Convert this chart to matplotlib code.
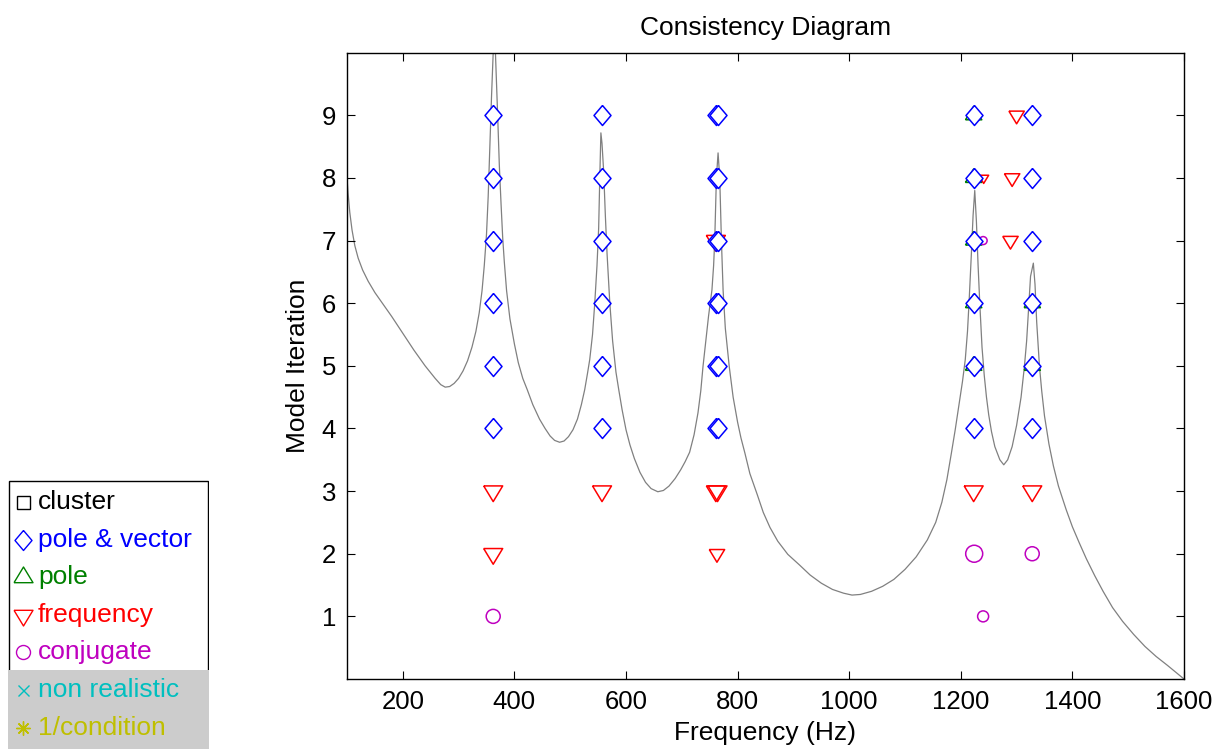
"""Consistency diagram: stabilised poles per model iteration over the FRF."""

import matplotlib

matplotlib.use("Agg")
import matplotlib.pyplot as plt
from matplotlib.patches import Rectangle

plt.rcParams["font.family"] = ["Liberation Sans", "DejaVu Sans"]

# FRF magnitude, already rescaled onto the iteration axis
FRF_FREQ = [
    100, 102, 105, 109, 114, 120, 128, 138, 150, 165, 180, 200, 220, 240, 258,
    268, 276, 284, 292, 300, 308, 316, 324, 331, 337, 342, 346, 350, 353, 356,
    359, 362, 364, 366, 368, 370, 373, 376, 379, 382, 386, 392, 400, 407, 415,
    423, 433, 445, 455, 464, 472, 481, 489, 497, 505, 513, 520, 526, 531, 535,
    540, 544, 548, 551, 553, 555, 557, 560, 563, 566, 571, 576, 582, 587, 593,
    600, 607, 615, 625, 635, 645, 657, 667, 677, 688, 698, 706, 714, 722, 729,
    734, 738, 743, 748, 754, 757, 759, 762, 765, 768, 771, 774, 778, 785, 792,
    800, 806, 813, 822, 835, 846, 858, 872, 890, 911, 930, 950, 970, 990, 1005,
    1020, 1040, 1060, 1080, 1100, 1120, 1140, 1155, 1166, 1175, 1183, 1190,
    1197, 1203, 1208, 1212, 1215, 1219, 1222, 1225, 1228, 1231, 1234, 1238,
    1242, 1246, 1250, 1255, 1261, 1270, 1277, 1284, 1292, 1300, 1308, 1314,
    1318, 1321, 1325, 1330, 1333, 1336, 1341, 1345, 1350, 1358, 1366, 1375,
    1389, 1400, 1412, 1425, 1440, 1455, 1472, 1490, 1510, 1530, 1550, 1570,
    1585, 1600,
]
FRF_LEVEL = [
    8.00, 7.75, 7.45, 7.17, 6.92, 6.72, 6.53, 6.35, 6.17, 5.98, 5.79, 5.52, 5.25, 5.00, 4.80,
    4.70, 4.66, 4.67, 4.72, 4.80, 4.92, 5.08, 5.30, 5.55, 5.85, 6.20, 6.60, 7.10, 7.70, 8.50,
    9.30, 10.00, 10.40, 10.00, 9.50, 9.00, 8.20, 7.60, 7.05, 6.65, 6.20, 5.75, 5.35, 5.05, 4.80,
    4.62, 4.38, 4.15, 4.00, 3.88, 3.81, 3.78, 3.80, 3.87, 3.98, 4.15, 4.38, 4.62, 4.88, 5.10,
    5.50, 6.00, 6.60, 7.20, 8.00, 8.72, 8.55, 8.10, 7.40, 6.80, 6.00, 5.40, 4.90, 4.62, 4.30,
    3.98, 3.74, 3.52, 3.30, 3.14, 3.04, 2.99, 3.01, 3.08, 3.20, 3.34, 3.47, 3.62, 3.90, 4.25,
    4.60, 4.99, 5.40, 5.80, 6.21, 6.60, 7.00, 8.00, 8.40, 8.00, 7.00, 6.21, 5.60, 4.99, 4.50,
    4.10, 3.85, 3.61, 3.28, 2.95, 2.66, 2.42, 2.20, 1.99, 1.82, 1.66, 1.53, 1.43, 1.37, 1.34,
    1.35, 1.40, 1.48, 1.59, 1.75, 1.95, 2.22, 2.50, 2.82, 3.18, 3.60, 3.98,
    4.40, 4.75, 5.10, 5.55, 6.05, 6.80, 7.40, 7.80, 7.30, 6.60, 6.00, 5.30,
    4.85, 4.50, 4.22, 3.95, 3.71, 3.50, 3.42, 3.50, 3.71, 4.05, 4.50, 4.99,
    5.40, 5.85, 6.43, 6.64, 6.30, 5.70, 4.99, 4.60, 4.20, 3.75, 3.40, 3.08,
    2.70, 2.43, 2.18, 1.92, 1.65, 1.40, 1.14, 0.92, 0.71, 0.52, 0.36, 0.22,
    0.11, 0.00,
]

# stable in pole & vector
PV_FREQ = [362, 362, 362, 362, 362, 362,
           557, 557, 557, 557, 557, 557,
           761, 761, 761, 761, 761, 761,
           764, 764, 764, 764, 764, 764,
           1223, 1223, 1223, 1223, 1223, 1223,
           1328, 1328, 1328, 1328, 1328, 1328]
PV_ITER = [4, 5, 6, 7, 8, 9] * 6

# stable in pole only
POLE_FREQ = [1223, 1223, 1223, 1223, 1223, 1328, 1328]
POLE_ITER = [5, 6, 7, 8, 9, 5, 6]

# stable in frequency
FREQUENCY_FREQ = [362, 362, 557, 761, 764, 763, 1223, 1328, 1289, 1292, 1300, 1241, 761]
FREQUENCY_ITER = [3, 2, 3, 3, 3, 2, 3, 3, 7, 8, 9, 8, 7]
FREQUENCY_SIZE_PX = [21, 21, 21, 21, 21, 17, 21, 21, 17, 17, 17, 11, 21]

# complex conjugate
CONJUGATE_FREQ = [362, 1224, 1328, 1240, 1240]
CONJUGATE_ITER = [1, 2, 2, 1, 7]
CONJUGATE_SIZE_PX = [14, 17, 14, 11, 8]

LEGEND_LABELS = ["cluster", "pole & vector", "pole", "frequency", "conjugate",
                 "non realistic", "1/condition"]

BLUE = (0, 0, 1)
GREEN = (0, 0.5, 0)
RED = (1, 0, 0)
MAGENTA = (0.75, 0, 0.75)
CYAN = (0, 0.75, 0.75)
OLIVE = (0.75, 0.75, 0)

DIAMOND = [(0, 1), (0.85, 0), (0, -1), (-0.85, 0), (0, 1)]
TRI_DOWN = [(-0.905, 0.495), (0.905, 0.495), (0, -1), (-0.905, 0.495)]
TRI_UP = [(-0.905, -0.495), (0.905, -0.495), (0, 1), (-0.905, -0.495)]

DPI = 100
W, H = 1225, 749


def _s(px):
    """scatter area (pt^2) for a marker that is px pixels across."""
    if isinstance(px, list):
        return [(p * 72 / DPI) ** 2 for p in px]
    return (px * 72 / DPI) ** 2


def _legend(fig):
    top = 480
    lax = fig.add_axes([8 / W, 0, 201 / W, (H - top) / H])
    lax.set_xlim(0, 201)
    lax.set_ylim(H - top, 0)
    lax.axis("off")
    lax.add_patch(Rectangle((0.5, 0.5), 199.5, 400, facecolor="white", edgecolor="black", lw=1.0))
    lax.add_patch(Rectangle((0, 190), 201, 100, facecolor="#cccccc", edgecolor="none", zorder=3))
    markers = [("s", 13, "black"), (DIAMOND, 20, BLUE), (TRI_UP, 21, GREEN), (TRI_DOWN, 21, RED),
               ("o", 14, MAGENTA), ("x", 11, CYAN), ((8, 2, 0), 14, OLIVE)]
    for i, (label, (marker, size, color)) in enumerate(zip(LEGEND_LABELS, markers)):
        y = 22 + 37.6 * i
        lax.plot([15], [y], marker=marker, ms=size * 72 / DPI, mfc="none", mec=color,
                 mew=1.0, ls="none", zorder=4, clip_on=False)
        lax.text(30, y, label, color=color, fontsize=19, va="center", ha="left", zorder=4)


def main():
    fig = plt.figure(figsize=(W / DPI, H / DPI), dpi=DPI)
    ax = fig.add_axes([347 / W, 1 - 679 / H, (1184 - 347) / W, (679 - 52.7) / H])

    ax.plot(FRF_FREQ, FRF_LEVEL, color="#808080", lw=0.9, zorder=1)
    ax.scatter(POLE_FREQ, POLE_ITER, s=_s(18), marker=TRI_UP, facecolors="none",
               edgecolors=[GREEN], linewidths=1.1, zorder=2)
    ax.scatter(FREQUENCY_FREQ, FREQUENCY_ITER, s=_s(FREQUENCY_SIZE_PX), marker=TRI_DOWN,
               facecolors="none", edgecolors=[RED], linewidths=1.1, zorder=3)
    ax.scatter(CONJUGATE_FREQ, CONJUGATE_ITER, s=_s(CONJUGATE_SIZE_PX), marker="o",
               facecolors="none", edgecolors=[MAGENTA], linewidths=1.1, zorder=3)
    ax.scatter(PV_FREQ, PV_ITER, s=_s(20), marker=DIAMOND, facecolors="white",
               edgecolors=[BLUE], linewidths=1.1, zorder=4)

    ax.set_xlim(100, 1600)
    ax.set_ylim(0, 10)
    ax.set_xticks(range(200, 1601, 200))
    ax.set_yticks(range(1, 10))
    ax.tick_params(direction="in", length=5.8, width=0.8, top=True, right=True,
                   labelsize=18.5, pad=8)
    for spine in ax.spines.values():
        spine.set_linewidth(1.0)
    ax.set_title("Consistency Diagram", fontsize=19, pad=13)
    ax.set_xlabel("Frequency (Hz)", fontsize=19, labelpad=5)
    ax.set_ylabel("Model Iteration", fontsize=19, labelpad=8)

    _legend(fig)
    fig.savefig("out.png", dpi=DPI)
    plt.close(fig)


if __name__ == "__main__":
    main()
